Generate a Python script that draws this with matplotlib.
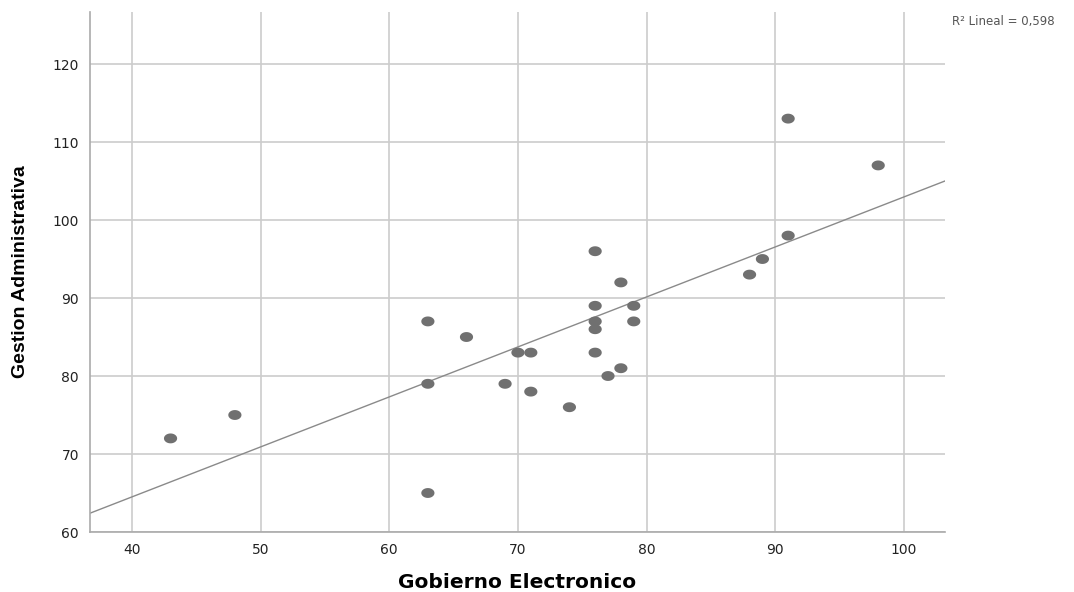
import numpy as np
import matplotlib
matplotlib.use("Agg")
import matplotlib.pyplot as plt
from matplotlib.path import Path
from matplotlib.markers import MarkerStyle

gobierno = [43, 48, 63, 63, 63, 66, 69, 70, 71, 71, 74, 76, 76, 76, 76, 76, 77, 78, 78, 79, 79, 88, 89, 91, 91, 98]
gestion = [72, 75, 87, 79, 65, 85, 79, 83, 83, 78, 76, 96, 89, 87, 86, 83, 80, 92, 81, 89, 87, 93, 95, 113, 98, 107]
xticks = [40, 50, 60, 70, 80, 90, 100]
yticks = [60, 70, 80, 90, 100, 110, 120]
# linear fit as shown in the chart (intercept, slope) and its label
fit_intercept = 38.86
fit_slope = 0.641
r2_label = 'R² Lineal = 0,598'

plt.rcParams['font.family'] = ['DejaVu Sans']

fig = plt.figure(figsize=(10.74, 5.92), dpi=100)
ax = fig.add_axes([90/1074, 60/592, 855/1074, 520/592])

xmin, xmax = 36.74, 103.19
ymin, ymax = 60, 126.67
ax.set_xlim(xmin, xmax)
ax.set_ylim(ymin, ymax)

ax.set_xticks(xticks)
ax.set_yticks(yticks)
ax.grid(True, color='#cccccc', linewidth=1.2)
ax.set_axisbelow(True)

for s in ['top', 'right']:
    ax.spines[s].set_visible(False)
for s in ['left', 'bottom']:
    ax.spines[s].set_color('#aaaaaa')
    ax.spines[s].set_linewidth(1.2)
ax.tick_params(length=0, labelsize=10, colors='#222222', pad=8)

# ellipse marker
t = np.linspace(0, 2*np.pi, 60)
verts = np.column_stack([np.cos(t), 0.75*np.sin(t)])
emark = MarkerStyle(Path(verts, closed=True))
ax.scatter(gobierno, gestion, marker=emark, s=90, color='#707070', edgecolors='none', zorder=3)

xs = np.array([xmin, xmax])
ax.plot(xs, fit_intercept + fit_slope*xs, color='#8a8a8a', linewidth=1.0, zorder=2)

fig.text(952/1074, 1 - 22/592, r2_label, fontsize=8.5,
         color='#555555', va='center', ha='left')

ax.set_xlabel('Gobierno Electronico', fontsize=14.5, fontweight='bold')
ax.xaxis.set_label_coords(0.5, -(582-532)/520, transform=ax.transAxes)
ax.xaxis.label.set_va('center')
ax.set_ylabel('Gestion Administrativa', fontsize=14, fontweight='bold', labelpad=17,
              family=['Liberation Sans', 'DejaVu Sans'])

fig.savefig('out.png', dpi=100, facecolor='white')
